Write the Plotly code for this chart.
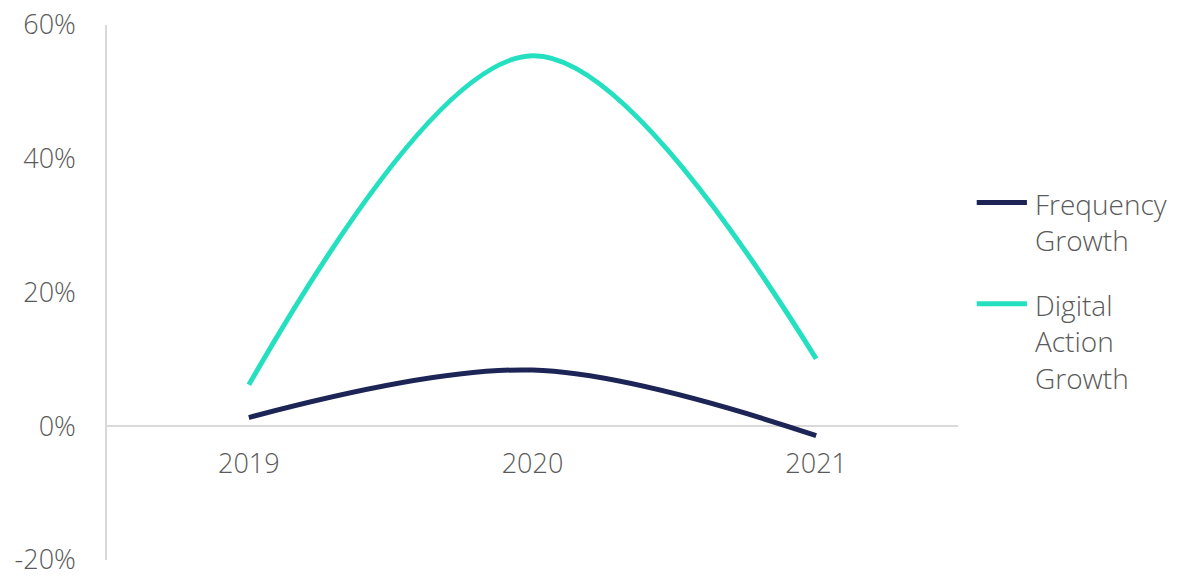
import plotly.graph_objects as go

# Yearly growth rates (percent)
years = ["2019", "2020", "2021"]
frequency_growth = [1.3, 8.4, -1.4]
digital_action_growth = [6.2, 55.4, 10.1]

series_names = ["Frequency<br>Growth", "Digital<br>Action<br>Growth"]
series_colors = ["#1c2556", "#25e0c0"]

y_ticks = [-20, 0, 20, 40, 60]
y_tick_labels = ["-20%", "0%", "20%", "40%", "60%"]

FONT = "Open Sans"
TEXT_COLOR = "#5a5a5a"
AXIS_COLOR = "#d9d9d9"

fig = go.Figure()
for name, vals, col in zip(series_names, [frequency_growth, digital_action_growth], series_colors):
    fig.add_trace(go.Scatter(
        x=years, y=vals, name=name, mode="lines",
        line=dict(color=col, width=5, shape="spline", smoothing=1.0),
        showlegend=False,
    ))

# Hand-built legend on the right: long line swatch + multi-line label
legend_y = [0.668, 0.479]
for name, col, ly in zip(series_names, series_colors, legend_y):
    fig.add_shape(type="line", xref="paper", yref="paper",
                  x0=1.022, x1=1.081, y0=ly, y1=ly,
                  line=dict(color=col, width=5))
    fig.add_annotation(xref="paper", yref="paper", x=1.088, y=ly + 0.036,
                       text=name, showarrow=False, xanchor="left", yanchor="top",
                       align="left",
                       font=dict(family=FONT, size=28, color=TEXT_COLOR, weight=300))

fig.update_layout(
    width=1194, height=578,
    margin=dict(l=107, r=236, t=25, b=18),
    paper_bgcolor="white", plot_bgcolor="white",
    font=dict(family=FONT, size=27, color=TEXT_COLOR, weight=300),
    xaxis=dict(
        type="category", range=[-0.5, 2.5], automargin=False,
        showgrid=False, zeroline=False, showline=False, ticks="",
        anchor="free", position=0.25, ticklabelstandoff=19,
    ),
    yaxis=dict(
        range=[-20, 60], tickvals=y_ticks, ticktext=y_tick_labels, automargin=False,
        showgrid=False, zeroline=True, zerolinecolor=AXIS_COLOR, zerolinewidth=1.5,
        showline=True, linecolor=AXIS_COLOR, linewidth=1.5, ticks="",
        ticklabelstandoff=24, ticklabeloverflow="allow",
    ),
)

fig.write_html("out.html")
